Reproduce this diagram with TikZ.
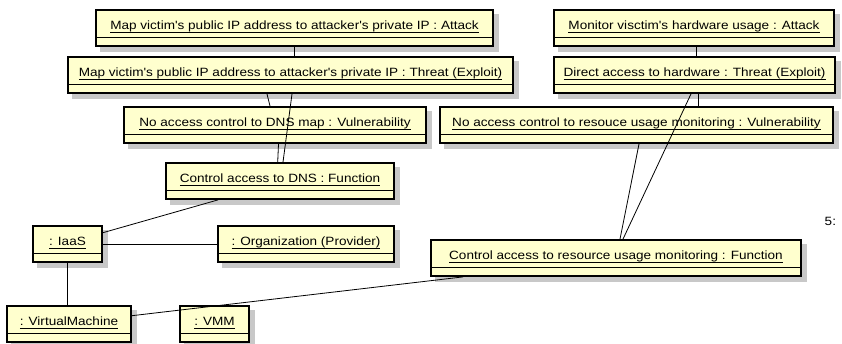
\documentclass[tikz,border=0pt]{standalone}
\usepackage{fontspec}
\setmainfont{Liberation Sans}[FakeStretch=1.13, Ligatures=TeXOff]
\usetikzlibrary{backgrounds}
\definecolor{objfill}{RGB}{255,255,206}
\definecolor{shadowgray}{RGB}{200,200,200}
% underlined object name with a fixed underline depth
\newsavebox\objnamebox
\newcommand\objname[1]{\sbox\objnamebox{#1}%
  \rlap{\rule[-3pt]{\wd\objnamebox}{0.75pt}}\usebox\objnamebox}
\tikzset{
  umlobj/.style={draw, line width=1.8pt, fill=objfill, rectangle,
    minimum height=36pt, inner sep=0pt,
    text height=10pt, text depth=7pt,
    font=\fontsize{12}{14}\selectfont,
    path picture={\draw[line width=0.9pt]
      ([yshift=8.5pt]path picture bounding box.south west) --
      ([yshift=8.5pt]path picture bounding box.south east);}},
  link/.style={draw, line width=0.8pt},
  objshadow/.style={fill=shadowgray}
}
\begin{document}
\begin{tikzpicture}[x=1pt,y=-1pt]
\useasboundingbox (0,0) rectangle (842,343);

% attack / threat / vulnerability chain for DNS
\node[umlobj, minimum width=397pt] (att1) at (294.5,28.2)
  {\objname{Map victim's public IP address to attacker's private IP : Attack}};
\node[umlobj, minimum width=445pt] (thr1) at (290.5,75)
  {\objname{Map victim's public IP address to attacker's private IP : Threat (Exploit)}};
\node[umlobj, minimum width=302pt] (vul1) at (275,125)
  {\objname{No access control to DNS map : Vulnerability}};
\node[umlobj, minimum width=228pt] (fun1) at (280,181)
  {\objname{Control access to DNS : Function}};

% attack / threat / vulnerability chain for hardware usage
\node[umlobj, minimum width=280pt] (att2) at (694,28.2)
  {\objname{Monitor visctim's hardware usage : Attack}};
\node[umlobj, minimum width=281pt] (thr2) at (694.5,75)
  {\objname{Direct access to hardware : Threat (Exploit)}};
\node[umlobj, minimum width=393pt] (vul2) at (636.5,125)
  {\objname{No access control to resouce usage monitoring : Vulnerability}};
\node[umlobj, minimum width=370pt] (fun2) at (616,258)
  {\objname{Control access to resource usage monitoring : Function}};

% infrastructure objects
\node[umlobj, minimum width=69pt] (iaas) at (67.5,244.2) {\objname{: IaaS}};
\node[umlobj, minimum width=176pt] (org) at (306,244.2) {\objname{: Organization (Provider)}};
\node[umlobj, minimum width=124pt] (vm) at (69,324) {\objname{: VirtualMachine}};
\node[umlobj, minimum width=69pt] (vmm) at (214.5,324) {\objname{: VMM}};

\node[anchor=base west, inner sep=0pt, font=\fontsize{12}{14}\selectfont] (lbl) at (824.5,225) {5:};

% drop shadows behind every object box
\begin{scope}[on background layer]
\foreach \n in {att1,thr1,vul1,fun1,att2,thr2,vul2,fun2,iaas,org,vm,vmm}
  \fill[objshadow] ([shift={(5pt,-5pt)}]\n.south west) rectangle ([shift={(5pt,-5pt)}]\n.north east);
\end{scope}

% links
\draw[link] (att1.south) -- (att1.south |- thr1.north);
\draw[link] ([xshift=-23.5pt]thr1.south) -- ([xshift=-5pt]vul1.north);
\draw[link] ([xshift=1.5pt]thr1.south) -- ([xshift=3pt]fun1.north);
\draw[link] ([xshift=3.5pt]vul1.south) -- ([xshift=-2.3pt]fun1.north);

\draw[link] ([xshift=2pt]att2.south) -- ([xshift=2pt]att2.south |- thr2.north);
\draw[link] ([xshift=3.5pt]thr2.south) -- ([xshift=3.5pt]thr2.south |- vul2.north);
\draw[link] ([xshift=-3.5pt]thr2.south) -- ([xshift=7pt]fun2.north);
\draw[link] ([xshift=2.5pt]vul2.south) -- ([xshift=4pt]fun2.north);

\draw[link] ([xshift=-62pt]fun1.south) -- ([yshift=11.5pt]iaas.east);
\draw[link] (iaas.east) -- (org.west);
\draw[link] (iaas.south) -- (iaas.south |- vm.north);
\draw[link] ([yshift=8.3pt]vm.east) -- ([xshift=-153pt]fun2.south);
\end{tikzpicture}
\end{document}
